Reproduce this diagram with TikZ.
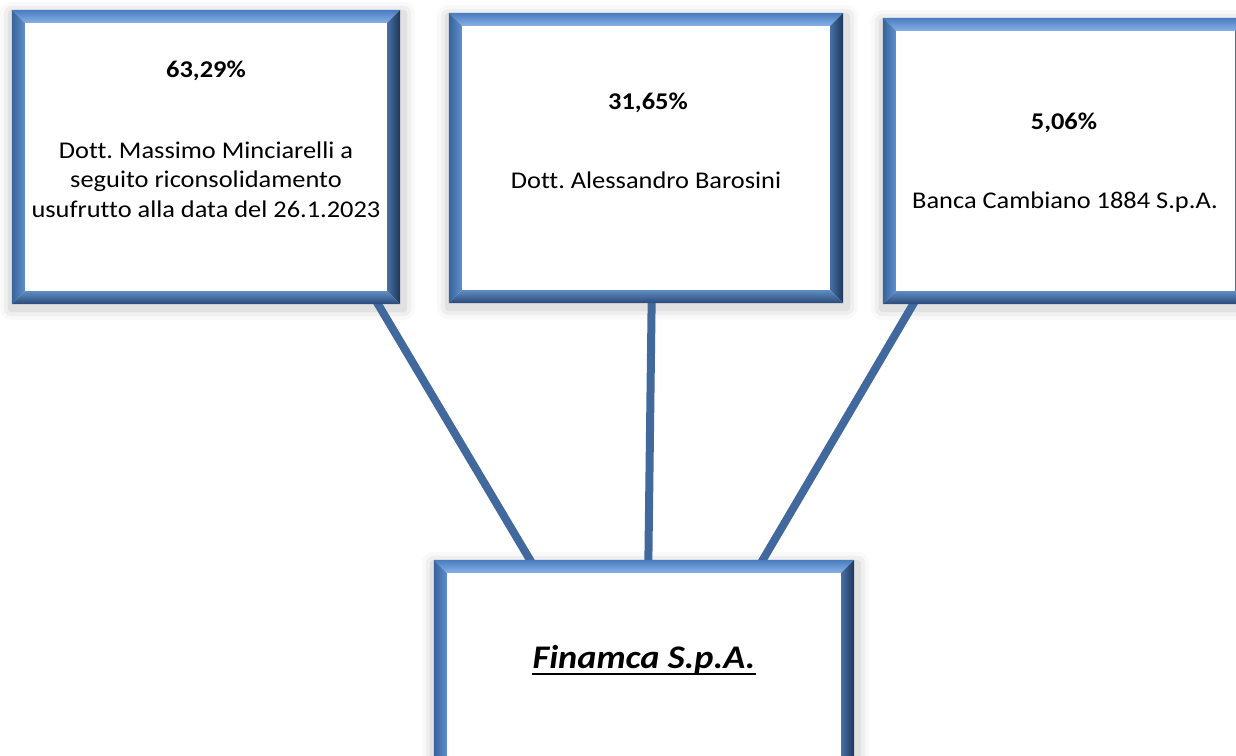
\documentclass[tikz,border=0pt]{standalone}
\usepackage{fontspec}
\setmainfont{Carlito}[FakeStretch=1.1, Ligatures=NoCommon]
\usetikzlibrary{calc,backgrounds}

\pgfdeclarelayer{shadow}
\pgfsetlayers{shadow,background,main}

\definecolor{bevtopout}{HTML}{4A7BBF}
\definecolor{bevtopin}{HTML}{86B1E6}
\definecolor{bevleftout}{HTML}{38639A}
\definecolor{bevleftin}{HTML}{5E8FCD}
\definecolor{bevrightin}{HTML}{4670A6}
\definecolor{bevrightout}{HTML}{1E3556}
\definecolor{bevbotin}{HTML}{5F8CC3}
\definecolor{bevbotout}{HTML}{2A4A77}
\definecolor{wire}{HTML}{41699D}

\tikzset{
  holder/.style={fill=white, inner sep=0pt},
  pct/.style={font=\fontsize{24}{29.3}\selectfont\bfseries, inner sep=0pt, anchor=base},
  owner/.style={font=\fontsize{24}{29.3}\selectfont, align=center, inner sep=0pt, anchor=base},
  link/.style={draw=wire, line width=8pt}
}

% bevelled frame round a holder node
\newcommand{\bevel}[1]{%
  \begin{pgfonlayer}{shadow}
    \foreach \s/\o in {12/0.025,8/0.04,4/0.06} {
      \fill[black, opacity=\o, rounded corners=\s pt]
        ($(#1.north west)+(-13-\s,-13-\s+4)$) rectangle ($(#1.south east)+(13+\s+3,13+\s+4)$);
    }
  \end{pgfonlayer}
  \shade[top color=bevtopout, bottom color=bevtopin]
    ($(#1.north west)+(-13,-13)$) -- ($(#1.north east)+(13,-13)$) -- (#1.north east) -- (#1.north west) -- cycle;
  \shade[left color=bevleftout, right color=bevleftin]
    ($(#1.north west)+(-13,-13)$) -- (#1.north west) -- (#1.south west) -- ($(#1.south west)+(-13,13)$) -- cycle;
  \shade[left color=bevrightin, right color=bevrightout]
    ($(#1.north east)+(13,-13)$) -- (#1.north east) -- (#1.south east) -- ($(#1.south east)+(13,13)$) -- cycle;
  \shade[top color=bevbotin, bottom color=bevbotout]
    ($(#1.south west)+(-13,13)$) -- (#1.south west) -- (#1.south east) -- ($(#1.south east)+(13,13)$) -- cycle;
}

\begin{document}
\frenchspacing
\begin{tikzpicture}[x=1pt, y=-1pt]
	\useasboundingbox (0,0) rectangle (1236,755);
	% Boxes:
	\node[holder, minimum width=362pt, minimum height=268pt] (minc) at (206,157) {};
	\node[holder, minimum width=368pt, minimum height=264pt] (baro) at (646,158) {};
	\node[holder, minimum width=339pt, minimum height=260pt] (banca) at (1065.5,161) {};
	\node[holder, minimum width=394pt, minimum height=192pt] (finamca) at (644,669) {};

	% Links, behind the boxes:
	\begin{pgfonlayer}{background}
		\draw[link] ([xshift=-27pt, yshift=17pt]minc.south east) -- ([xshift=101pt, yshift=-17pt]finamca.north west);
		\draw[link] ([xshift=6pt, yshift=17pt]baro.south) -- ([xshift=4pt, yshift=-17pt]finamca.north);
		\draw[link] ([xshift=35pt, yshift=17pt]banca.south west) -- ([xshift=-96pt, yshift=-17pt]finamca.north east);
	\end{pgfonlayer}

	% Frames:
	\bevel{minc}
	\bevel{baro}
	\bevel{banca}
	\bevel{finamca}

	% Texts:
	\node[pct] (mincpct) at (206,77) {63,29\%};
	\node[owner] (mincname) at (206,217) {Dott. Massimo Minciarelli a\\seguito riconsolidamento\\usufrutto alla data del 26.1.2023};
	\node[pct] (baropct) at (648,109) {31,65\%};
	\node[owner] (baroname) at (646,188) {Dott. Alessandro Barosini};
	\node[pct] (bancapct) at (1064,129) {5,06\%};
	\node[owner] (bancaname) at (1065,208) {Banca Cambiano 1884 S.p.A.};
	\node[pct, font=\fontsize{33}{40}\selectfont\bfseries\itshape] (finname) at (644,668) {Finamca S.p.A.};
	\draw[line width=2pt] ([yshift=-6pt]finname.base west) -- ([yshift=-6pt]finname.base east);
\end{tikzpicture}
\end{document}
